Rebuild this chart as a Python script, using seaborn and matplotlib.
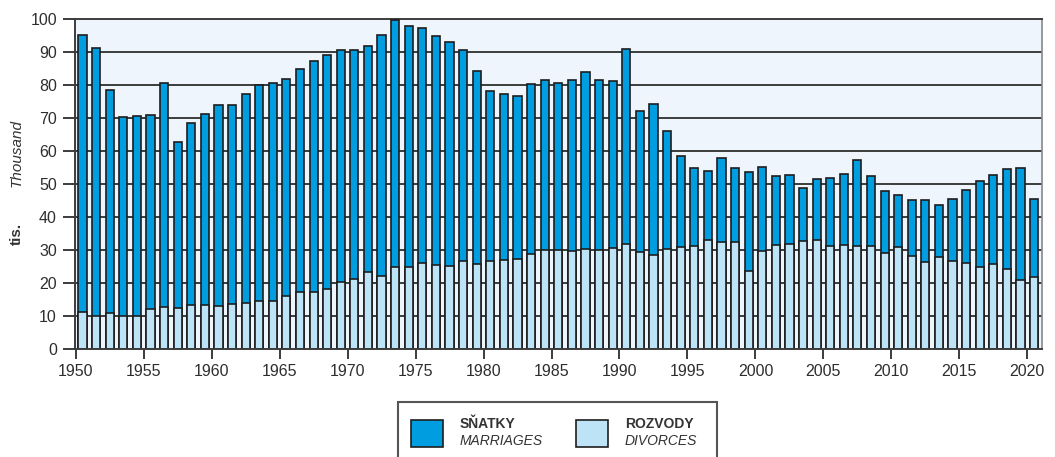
"""Marriages and divorces, 1950-2020 (thousands)."""

import matplotlib

matplotlib.use("Agg")

import matplotlib.pyplot as plt  # noqa: E402
import pandas as pd  # noqa: E402
import seaborn as sns  # noqa: E402
from matplotlib.patches import Rectangle  # noqa: E402

years = list(range(1950, 2021))

marriages = [
    95.2, 91.2, 78.6, 70.2, 70.6, 71.0, 80.6, 62.7, 68.6, 71.3,
    74.0, 73.8, 77.2, 80.0, 80.5, 81.7, 84.8, 87.2, 89.1, 90.5,
    90.6, 91.9, 95.3, 99.6, 98.0, 97.3, 95.0, 92.9, 90.6, 84.3,
    78.2, 77.4, 76.7, 80.3, 81.4, 80.5, 81.5, 83.8, 81.5, 81.3,
    90.9, 72.0, 74.1, 66.0, 58.4, 55.0, 53.9, 57.8, 55.0, 53.5,
    55.3, 52.4, 52.7, 48.9, 51.4, 51.8, 52.9, 57.2, 52.5, 47.9,
    46.7, 45.1, 45.2, 43.5, 45.6, 48.2, 50.8, 52.6, 54.5, 55.0,
    45.4,
]

divorces = [
    11.1, 10.1, 11.0, 9.9, 9.9, 12.0, 12.6, 12.4, 13.3, 13.2,
    12.9, 13.7, 14.0, 14.6, 14.4, 16.0, 17.2, 17.3, 18.3, 20.4,
    21.2, 23.2, 22.0, 25.0, 24.8, 26.2, 25.4, 25.3, 26.7, 25.9,
    26.8, 27.0, 27.4, 28.9, 30.0, 29.9, 29.7, 30.3, 30.1, 30.6,
    31.9, 29.4, 28.6, 30.2, 30.8, 31.1, 33.1, 32.5, 32.4, 23.7,
    29.7, 31.6, 31.8, 32.8, 33.1, 31.3, 31.4, 31.1, 31.3, 29.1,
    30.8, 28.1, 26.4, 27.9, 26.8, 26.1, 25.0, 25.7, 24.1, 21.0,
    21.7,
]

y_ticks = [0, 10, 20, 30, 40, 50, 60, 70, 80, 90, 100]
x_tick_years = list(range(1950, 2021, 5))

DARK = "#009ee0"
LIGHT = "#bce3f6"
EDGE = "#1e1e1e"
GRID = "#3c3c3c"
BG = "#eef5fc"

sns.set_theme(style="white")
plt.rcParams["font.family"] = ["Liberation Sans", "DejaVu Sans"]

df = pd.DataFrame({"year": years, "marriages": marriages, "divorces": divorces})

fig = plt.figure(figsize=(10.55, 4.57), dpi=100)
ax = fig.add_axes([0.0711, 0.2363, 0.9166, 0.7221])
ax.set_facecolor(BG)

sns.barplot(data=df, x="year", y="marriages", color=DARK, saturation=1,
            width=0.6, edgecolor=EDGE, linewidth=1.2, ax=ax, errorbar=None)
n_first = len(ax.patches)
sns.barplot(data=df, x="year", y="divorces", color=LIGHT, saturation=1,
            width=0.6, edgecolor=EDGE, linewidth=1.2, ax=ax, errorbar=None)
for i, p in enumerate(ax.patches):
    p.set_zorder(3 if i < n_first else 4)

# horizontal rules sit behind the bars
ax.grid(False)
for v in y_ticks[1:-1]:
    ax.axhline(v, color=GRID, linewidth=1.4, zorder=1)

# category positions: year index i, tick for year Y sits half a slot left
ax.set_xlim(-0.55, 70.58)
ax.set_xticks([y - 1950 - 0.5 for y in x_tick_years])
ax.set_xticklabels([str(y) for y in x_tick_years])
ax.set_ylim(0, 100)
ax.set_yticks(y_ticks)
ax.set_yticklabels([str(v) for v in y_ticks])
ax.set_xlabel("")
ax.set_ylabel("")

ax.tick_params(axis="y", length=9, width=1.4, color=GRID, pad=4,
               labelsize=11.5, labelcolor="#2e2e2e", left=True)
ax.tick_params(axis="x", length=7.5, width=1.4, color=GRID, pad=3,
               labelsize=11.5, labelcolor="#2e2e2e", bottom=True)

ax.spines["top"].set_color(GRID)
ax.spines["top"].set_linewidth(1.4)
ax.spines["right"].set_color("#888888")
ax.spines["right"].set_linewidth(1.2)
for side in ["left", "bottom"]:
    ax.spines[side].set_color(GRID)
    ax.spines[side].set_linewidth(1.4)
    ax.spines[side].set_zorder(5)

fig.text(0.016, 0.488, "tis.", rotation=90, ha="center", va="center",
         fontsize=11, fontweight="bold", color="#333333")
fig.text(0.016, 0.665, "Thousand", rotation=90, ha="center", va="center",
         fontsize=11, fontstyle="italic", color="#333333")

# legend box (extends past bottom edge as in the original)
W, H = 1055.0, 457.0
fig.patches.append(Rectangle((398 / W, -0.05), (717 - 398) / W, (H - 402) / H + 0.05,
                             transform=fig.transFigure, facecolor="white",
                             edgecolor="#555555", linewidth=1.5))
for x0, col in [(411, DARK), (576, LIGHT)]:
    fig.patches.append(Rectangle((x0 / W, 1 - 447 / H), 32 / W, 27 / H,
                                 transform=fig.transFigure, facecolor=col,
                                 edgecolor=EDGE, linewidth=1.2))
for x0, top, bottom in [(460, "SŇATKY", "MARRIAGES"), (625, "ROZVODY", "DIVORCES")]:
    fig.text(x0 / W, 1 - 428 / H, top, fontsize=10, fontweight="bold",
             color="#333333", va="baseline")
    fig.text(x0 / W, 1 - 445 / H, bottom, fontsize=10, fontstyle="italic",
             color="#333333", va="baseline")

fig.savefig("out.png", dpi=100)
